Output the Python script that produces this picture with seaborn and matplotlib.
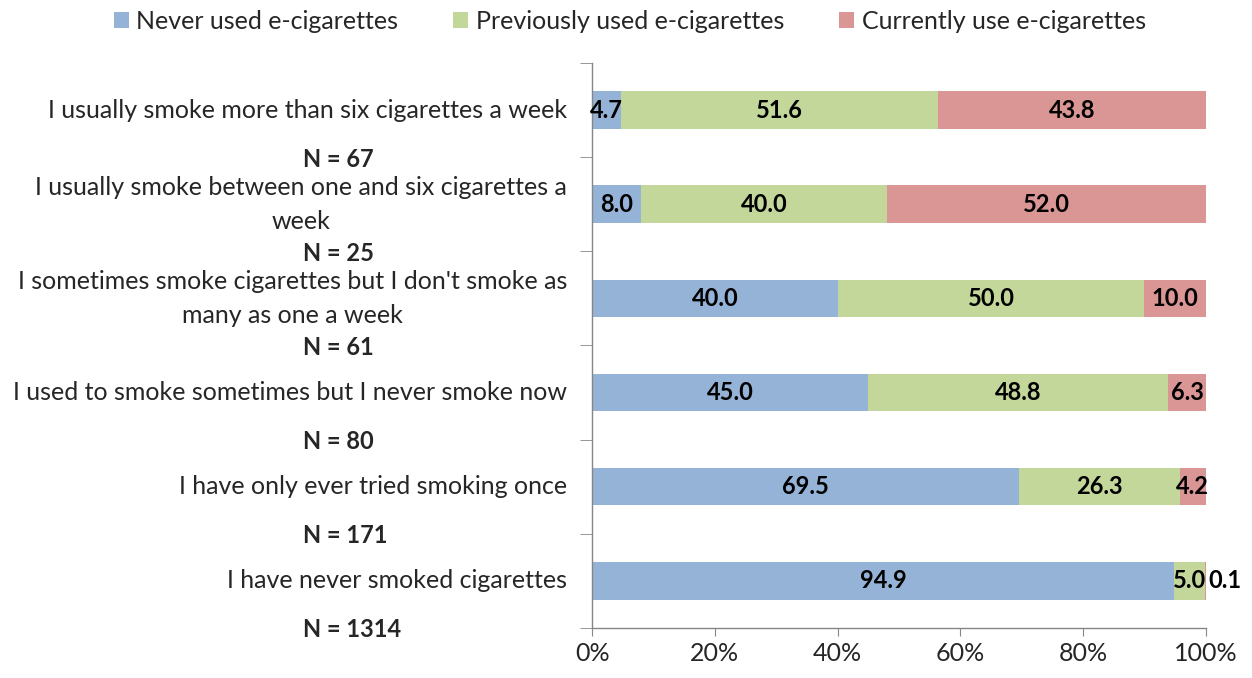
import matplotlib
matplotlib.use("Agg")
import matplotlib.pyplot as plt
import matplotlib.transforms as mtransforms
import seaborn as sns
import numpy as np
import pandas as pd
from matplotlib.patches import Patch
from matplotlib.ticker import FuncFormatter, FixedLocator

categories = [
    "I usually smoke more than six cigarettes a week",
    "I usually smoke between one and six cigarettes a\nweek",
    "I sometimes smoke cigarettes but I don't smoke as\nmany as one a week",
    "I used to smoke sometimes but I never smoke now",
    "I have only ever tried smoking once",
    "I have never smoked cigarettes",
]
n_labels = ["N = 67", "N = 25", "N = 61", "N = 80", "N = 171", "N = 1314"]
never = [4.7, 8.0, 40.0, 45.0, 69.5, 94.9]
previously = [51.6, 40.0, 50.0, 48.8, 26.3, 5.0]
currently = [43.8, 52.0, 10.0, 6.3, 4.2, 0.1]
series_names = ["Never used e-cigarettes", "Previously used e-cigarettes", "Currently use e-cigarettes"]
colors = ["#95B3D7", "#C4D79B", "#DA9694"]

sns.set_style("white")
plt.rcParams["font.family"] = ["Lato", "DejaVu Sans"]
FS = 18
FSB = 17

fig = plt.figure(figsize=(12.52, 6.78), dpi=100)
ax = fig.add_axes([0.473, 0.074, 0.49, 0.833])

vals = np.array([never, previously, currently])
cum = np.cumsum(vals, axis=0)
df = pd.DataFrame({"cat": categories})
for k in [2, 1, 0]:
    d = df.copy()
    d["v"] = cum[k]
    sns.barplot(data=d, x="v", y="cat", orient="h", color=colors[k],
                width=0.4, saturation=1, ax=ax, linewidth=0)

# value labels
for k in range(3):
    for i in range(len(categories)):
        v = vals[k][i]
        start = cum[k][i] - v
        if v < 1:
            ax.text(min(cum[k][i], 100) + 0.5, i, f"{v:.1f}", ha="left", va="center",
                    fontsize=FSB, fontweight="bold", color="black")
        else:
            ax.text(start + v / 2, i, f"{v:.1f}", ha="center", va="center",
                    fontsize=FSB, fontweight="bold", color="black")

ax.set_xlim(0, 100)
ax.set_ylim(len(categories) - 0.5, -0.5)
ax.set_xlabel("")
ax.set_ylabel("")
ax.set_xticks([0, 20, 40, 60, 80, 100])
ax.xaxis.set_major_formatter(FuncFormatter(lambda x, p: f"{int(x)}%"))
ax.tick_params(axis="x", labelsize=FS, length=6, color="#868686", direction="out", bottom=True, pad=4)
ax.set_yticks(range(len(categories)))
ax.set_yticklabels(categories, fontsize=FS, linespacing=1.6)
for lab in ax.get_yticklabels():
    lab.set_multialignment("center")
    lab.set_verticalalignment("center")
ax.tick_params(axis="y", which="major", length=0, pad=18)
ax.yaxis.set_minor_locator(FixedLocator(np.arange(-0.5, len(categories), 1.0)))
ax.tick_params(axis="y", which="minor", length=9, color="#868686", left=True)

for s in ["top", "right"]:
    ax.spines[s].set_visible(False)
for s in ["left", "bottom"]:
    ax.spines[s].set_color("#868686")
    ax.spines[s].set_linewidth(1)

# N labels
trans = mtransforms.blended_transform_factory(fig.transFigure, ax.transData)
for i, nl in enumerate(n_labels):
    ax.text(0.242, i + 0.52, nl, transform=trans, ha="left", va="center",
            fontsize=FSB, fontweight="bold")

handles = [Patch(facecolor=c, edgecolor="none") for c in colors]
fig.legend(handles, series_names, loc="center", bbox_to_anchor=(0.503, 0.968), ncol=3,
           frameon=False, fontsize=FS, handlelength=0.6, handleheight=0.6,
           handletextpad=0.3, columnspacing=2.2)

fig.savefig("out.png", dpi=100)
